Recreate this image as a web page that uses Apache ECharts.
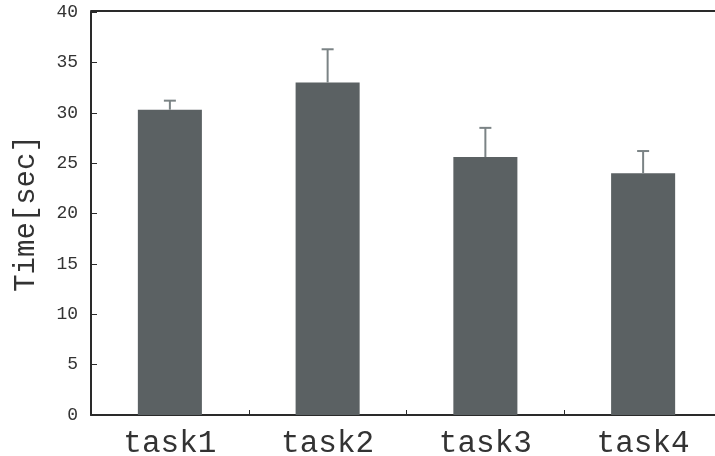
<!DOCTYPE html>
<html>
<head>
<meta charset="utf-8">
<script src="https://cdn.jsdelivr.net/npm/echarts@6/dist/echarts.min.js"></script>
<style>
  html, body { margin: 0; padding: 0; background: #fff; overflow: hidden; width: 715px; height: 456px; }
  #chart { width: 730px; height: 456px; }
</style>
</head>
<body>
<div id="chart"></div>
<script>
// Mean completion time per task, with the upper end of the error bar
const categories = ['task1', 'task2', 'task3', 'task4'];
const meanTime = [30.3, 33.0, 25.6, 24.0];
const errorTop = [31.2, 36.3, 28.5, 26.2];
const yTicks = [0, 5, 10, 15, 20, 25, 30, 35, 40];

const monoFont = '"Liberation Mono", "DejaVu Sans Mono", monospace';
const axisDark = '#2a2a2a';

const chart = echarts.init(document.getElementById('chart'), null, { renderer: 'canvas' });

chart.setOption({
  animation: false,
  backgroundColor: '#ffffff',
  // the plot runs a little past the right edge of the page
  grid: { left: 91, top: 12, bottom: 41, right: 8, containLabel: false, outerBoundsMode: 'none' },
  xAxis: [
    {
      type: 'category',
      data: categories,
      position: 'bottom',
      axisLine: { lineStyle: { color: axisDark, width: 2 } },
      axisTick: { show: true, inside: true, length: 5, alignWithLabel: false,
                  lineStyle: { color: axisDark, width: 1 } },
      axisLabel: { color: '#333', fontFamily: monoFont, fontSize: 31, margin: 13 },
      splitLine: { show: false }
    },
    {
      // top frame line
      type: 'category',
      data: categories,
      position: 'top',
      offset: 1,
      axisLine: { lineStyle: { color: axisDark, width: 2 } },
      axisTick: { show: false },
      axisLabel: { show: false },
      splitLine: { show: false }
    }
  ],
  yAxis: {
    type: 'value',
    min: yTicks[0],
    max: yTicks[yTicks.length - 1],
    interval: yTicks[1] - yTicks[0],
    name: 'Time[sec]',
    nameLocation: 'middle',
    nameGap: 50,
    nameRotate: 90,
    nameTextStyle: { color: '#333', fontFamily: monoFont, fontSize: 29 },
    axisLine: { show: true, lineStyle: { color: axisDark, width: 2 } },
    axisTick: { show: true, inside: true, length: 6, lineStyle: { color: axisDark, width: 1 } },
    axisLabel: { color: '#333', fontFamily: monoFont, fontSize: 18, margin: 13,
                 padding: [7, 0, 0, 0] },
    splitLine: { show: false }
  },
  series: [
    {
      type: 'bar',
      data: meanTime,
      barWidth: '40.6%',
      itemStyle: { color: '#5b6163' },
      z: 2
    },
    {
      type: 'custom',
      data: categories.map((c, i) => [i, meanTime[i], errorTop[i]]),
      z: 3,
      renderItem: function (params, api) {
        const idx = api.value(0);
        const base = api.coord([idx, api.value(1)]);
        const top = api.coord([idx, api.value(2)]);
        const half = 6;
        const style = { stroke: '#7b8385', lineWidth: 2 };
        return {
          type: 'group',
          children: [
            { type: 'line', shape: { x1: base[0], y1: base[1], x2: top[0], y2: top[1] }, style: style },
            { type: 'line', shape: { x1: top[0] - half, y1: top[1], x2: top[0] + half, y2: top[1] }, style: style }
          ]
        };
      }
    }
  ]
});
</script>
</body>
</html>
